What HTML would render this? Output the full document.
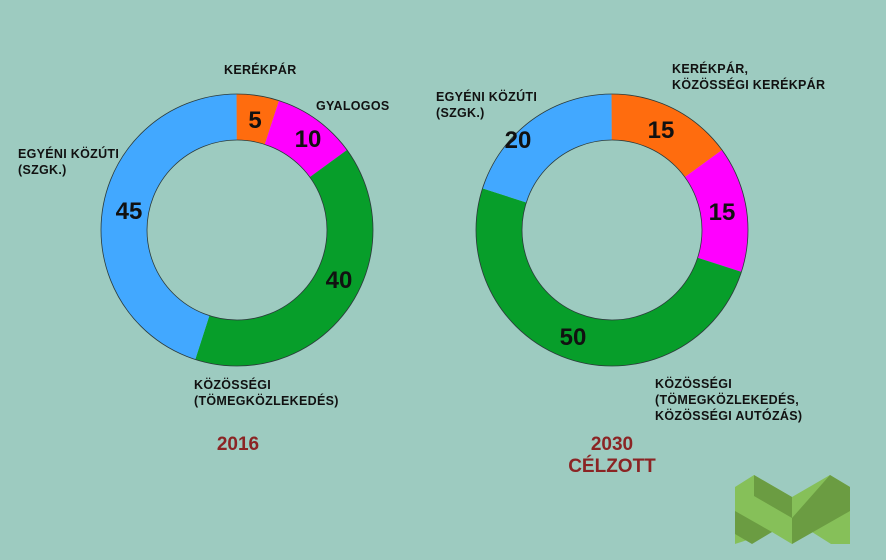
<!DOCTYPE html>
<html><head><meta charset="utf-8"><style>
body{margin:0;width:886px;height:560px;background:#9dcbc0;overflow:hidden;font-family:"Liberation Sans",sans-serif}
svg{position:absolute;left:0;top:0}
.l{font-size:12.5px;font-weight:bold;fill:#111;letter-spacing:0.3px}
.n{font-size:24px;font-weight:bold;fill:#111}
.y{font-size:19px;font-weight:bold;fill:#8b2424}
</style></head><body>
<svg width="886" height="560" viewBox="0 0 886 560">
<g transform="rotate(-90 237 230)" fill="none" stroke-width="46">
<circle cx="237" cy="230" r="113" stroke="#ff6c0e" pathLength="100" stroke-dasharray="5 95" stroke-dashoffset="0"/>
<circle cx="237" cy="230" r="113" stroke="#ff00ff" pathLength="100" stroke-dasharray="10 90" stroke-dashoffset="-5"/>
<circle cx="237" cy="230" r="113" stroke="#079e2a" pathLength="100" stroke-dasharray="40 60" stroke-dashoffset="-15"/>
<circle cx="237" cy="230" r="113" stroke="#42a8ff" pathLength="100" stroke-dasharray="45 55" stroke-dashoffset="-55"/>
</g>
<g fill="none" stroke="#2a3a3a" stroke-width="0.8"><circle cx="237" cy="230" r="136"/><circle cx="237" cy="230" r="90"/></g>
<g transform="rotate(-90 612 230)" fill="none" stroke-width="46">
<circle cx="612" cy="230" r="113" stroke="#ff6c0e" pathLength="100" stroke-dasharray="15 85" stroke-dashoffset="0"/>
<circle cx="612" cy="230" r="113" stroke="#ff00ff" pathLength="100" stroke-dasharray="15 85" stroke-dashoffset="-15"/>
<circle cx="612" cy="230" r="113" stroke="#079e2a" pathLength="100" stroke-dasharray="50 50" stroke-dashoffset="-30"/>
<circle cx="612" cy="230" r="113" stroke="#42a8ff" pathLength="100" stroke-dasharray="20 80" stroke-dashoffset="-80"/>
</g>
<g fill="none" stroke="#2a3a3a" stroke-width="0.8"><circle cx="612" cy="230" r="136"/><circle cx="612" cy="230" r="90"/></g>
<text class="n" x="255" y="128" text-anchor="middle">5</text>
<text class="n" x="308" y="147" text-anchor="middle">10</text>
<text class="n" x="339" y="288" text-anchor="middle">40</text>
<text class="n" x="129" y="219" text-anchor="middle">45</text>
<text class="n" x="661" y="138" text-anchor="middle">15</text>
<text class="n" x="722" y="220" text-anchor="middle">15</text>
<text class="n" x="573" y="345" text-anchor="middle">50</text>
<text class="n" x="518" y="148" text-anchor="middle">20</text>
<text class="l" x="224" y="74">KERÉKPÁR</text>
<text class="l" x="316" y="110">GYALOGOS</text>
<text class="l" x="18" y="158">EGYÉNI KÖZÚTI</text>
<text class="l" x="18" y="174">(SZGK.)</text>
<text class="l" x="194" y="389">KÖZÖSSÉGI</text>
<text class="l" x="194" y="405">(TÖMEGKÖZLEKEDÉS)</text>
<text class="l" x="436" y="101">EGYÉNI KÖZÚTI</text>
<text class="l" x="436" y="117">(SZGK.)</text>
<text class="l" x="672" y="73">KERÉKPÁR,</text>
<text class="l" x="672" y="89">KÖZÖSSÉGI KERÉKPÁR</text>
<text class="l" x="655" y="388">KÖZÖSSÉGI</text>
<text class="l" x="655" y="404">(TÖMEGKÖZLEKEDÉS,</text>
<text class="l" x="655" y="420">KÖZÖSSÉGI AUTÓZÁS)</text>
<text class="y" x="238" y="450" text-anchor="middle">2016</text>
<text class="y" x="612" y="450" text-anchor="middle">2030</text>
<text class="y" x="612" y="472" text-anchor="middle">CÉLZOTT</text>
<g>
<polygon points="735,487 754,475 792,497 792,544 772,532 735,544" fill="#86c059"/>
<polygon points="754,475 792,497 792,518 754,496" fill="#6b9c42"/>
<polygon points="735,511 772,532 752,544 735,534" fill="#6b9c42"/>
<polygon points="792,497 830,475 850,487 850,544 831,544 812,532 792,544" fill="#86c059"/>
<polygon points="830,475 850,487 850,511 792,544 792,518" fill="#6b9c42"/>
</g>
</svg>
</body></html>
